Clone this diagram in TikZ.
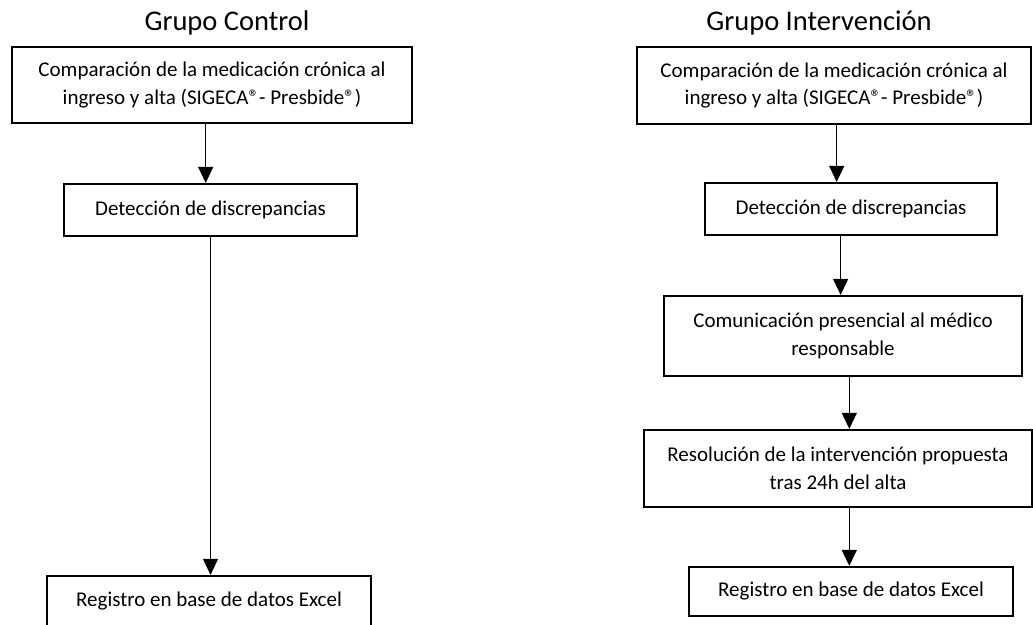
\documentclass[tikz,border=0pt]{standalone}
\usepackage{fontspec}
\setmainfont{Carlito}
\usetikzlibrary{arrows.meta}
\begin{document}
\begin{tikzpicture}[x=1pt,y=-1pt,
  box/.style={draw=black,line width=2.2pt,rectangle,inner sep=0pt,align=center,
    font=\fontsize{21}{27.7}\selectfont},
  ttl/.style={inner sep=0pt,font=\fontsize{28.5}{32}\selectfont},
  arr/.style={draw=black,line width=1.1pt,-{Triangle[width=15pt,length=16pt]}}]
\useasboundingbox (0,0) rectangle (1033,624);
\clip (0,0) rectangle (1033,624);
% titles
\node[ttl] (tl) at (227,23) {Grupo Control};
\node[ttl] (tr) at (819,23) {Grupo Intervención};
% left column
\node[box,minimum width=400pt,minimum height=76pt] (L1) at (212,85)
  {Comparación de la medicación crónica al\\ingreso y alta (SIGECA®- Presbide®)};
\node[box,minimum width=293pt,minimum height=52pt] (L2) at (210.5,210)
  {Detección de discrepancias};
\node[box,minimum width=324pt,minimum height=51pt] (L3) at (209,601.5)
  {Registro en base de datos Excel};
% right column
\node[box,minimum width=394pt,minimum height=77pt] (R1) at (834,85.5)
  {Comparación de la medicación crónica al\\ingreso y alta (SIGECA®- Presbide®)};
\node[box,minimum width=292pt,minimum height=52pt] (R2) at (851,209)
  {Detección de discrepancias};
\node[box,minimum width=358pt,minimum height=80pt] (R3) at (843,336)
  {Comunicación presencial al médico\\responsable};
\node[box,minimum width=388pt,minimum height=77pt] (R4) at (838,468.5)
  {Resolución de la intervención propuesta\\tras 24h del alta};
\node[box,minimum width=324pt,minimum height=49pt] (R5) at (851,591.5)
  {Registro en base de datos Excel};
% arrow x positions
\coordinate (xa) at (205.7,0);
\coordinate (xb) at (210.5,0);
\coordinate (xc) at (836.7,0);
\coordinate (xd) at (840.6,0);
\coordinate (xe) at (849.3,0);
% connectors
\draw[arr] (L1.south -| xa) -- (L2.north -| xa);
\draw[arr] (L2.south -| xb) -- (L3.north -| xb);
\draw[arr] (R1.south -| xc) -- (R2.north -| xc);
\draw[arr] (R2.south -| xd) -- (R3.north -| xd);
\draw[arr] (R3.south -| xe) -- (R4.north -| xe);
\draw[arr] (R4.south -| xe) -- (R5.north -| xe);
\end{tikzpicture}
\end{document}
